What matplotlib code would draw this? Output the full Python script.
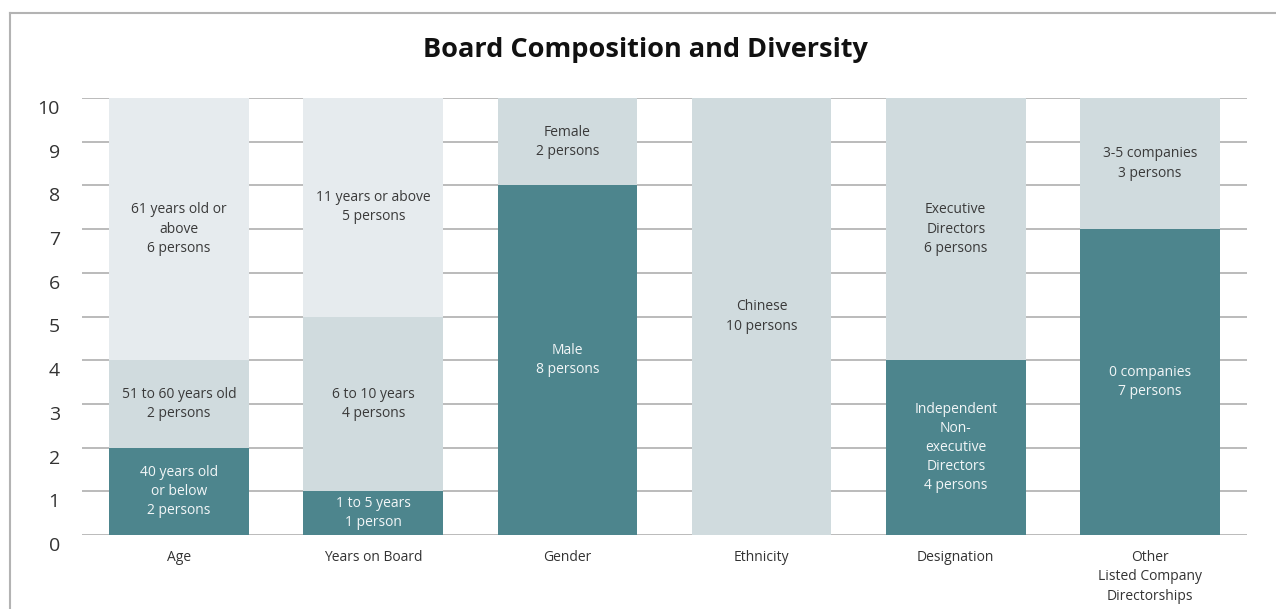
import matplotlib
matplotlib.use("Agg")
import matplotlib.pyplot as plt
from matplotlib.lines import Line2D
import matplotlib.transforms as mtransforms

plt.rcParams['font.family'] = ['Open Sans', 'DejaVu Sans']

categories = ["Age", "Years on Board", "Gender", "Ethnicity", "Designation",
              "Other\nListed Company\nDirectorships"]

# segments bottom to top per category
seg_values = [
    [2, 2, 6],
    [1, 4, 5],
    [8, 2],
    [10],
    [4, 6],
    [7, 3],
]
seg_labels = [
    ["40 years old\nor below\n2 persons", "51 to 60 years old\n2 persons", "61 years old or\nabove\n6 persons"],
    ["1 to 5 years\n1 person", "6 to 10 years\n4 persons", "11 years or above\n5 persons"],
    ["Male\n8 persons", "Female\n2 persons"],
    ["Chinese\n10 persons"],
    ["Independent\nNon-\nexecutive\nDirectors\n4 persons", "Executive\nDirectors\n6 persons"],
    ["0 companies\n7 persons", "3-5 companies\n3 persons"],
]
seg_shades = [
    ["dark", "mid", "light"],
    ["dark", "mid", "light"],
    ["dark", "mid"],
    ["mid"],
    ["dark", "mid"],
    ["dark", "mid"],
]
yticks = list(range(0, 11))

colors = {"dark": "#4d858d", "mid": "#d0dbde", "light": "#e6ebee"}
text_colors = {"dark": "#f2f6f7", "mid": "#3a3a3a", "light": "#3a3a3a"}

fig = plt.figure(figsize=(12.76, 6.09), dpi=100)
ax = fig.add_axes([82/1276, 1-535/609, (1247-82)/1276, (535-98)/609])

for i, (vals, labs, shades) in enumerate(zip(seg_values, seg_labels, seg_shades)):
    bottom = 0
    for v, lab, sh in zip(vals, labs, shades):
        ax.bar(i, v, bottom=bottom, width=0.72, color=colors[sh], zorder=2, linewidth=0)
        ax.text(i, bottom + v/2, lab, ha="center", va="center", fontsize=10,
                color=text_colors[sh], zorder=3, linespacing=1.38)
        bottom += v

ax.set_xlim(-0.5, len(categories) - 0.5)
ax.set_ylim(0, 10)
ax.set_yticks(yticks)
ax.set_yticklabels([str(t) for t in yticks], fontsize=14, color="#333333")
ax.set_xticks(range(len(categories)))
ax.set_xticklabels(categories, fontsize=10, color="#333333", va="top", linespacing=1.38)
ax.tick_params(axis="y", length=0, pad=16)
ax.tick_params(axis="x", length=0, pad=11)
for lbl in ax.get_yticklabels():
    lbl.set_transform(lbl.get_transform() + mtransforms.ScaledTranslation(0, -9/100, fig.dpi_scale_trans))
for s in ax.spines.values():
    s.set_visible(False)
ax.yaxis.grid(True, color="#a8a8a8", linewidth=1.1, zorder=1)
ax.set_axisbelow(True)

fig.text(645/1276, 1-50/609, "Board Composition and Diversity", ha="center", va="center",
         fontsize=19.5, fontweight="bold", color="#111111")

fig.add_artist(Line2D([10/1276, 1], [1-13/609, 1-13/609], color="#b3b3b3", linewidth=1.5,
                      transform=fig.transFigure))
fig.add_artist(Line2D([10/1276, 10/1276], [0, 1-13/609], color="#b3b3b3", linewidth=1.5,
                      transform=fig.transFigure))

fig.savefig("out.png", dpi=100)
